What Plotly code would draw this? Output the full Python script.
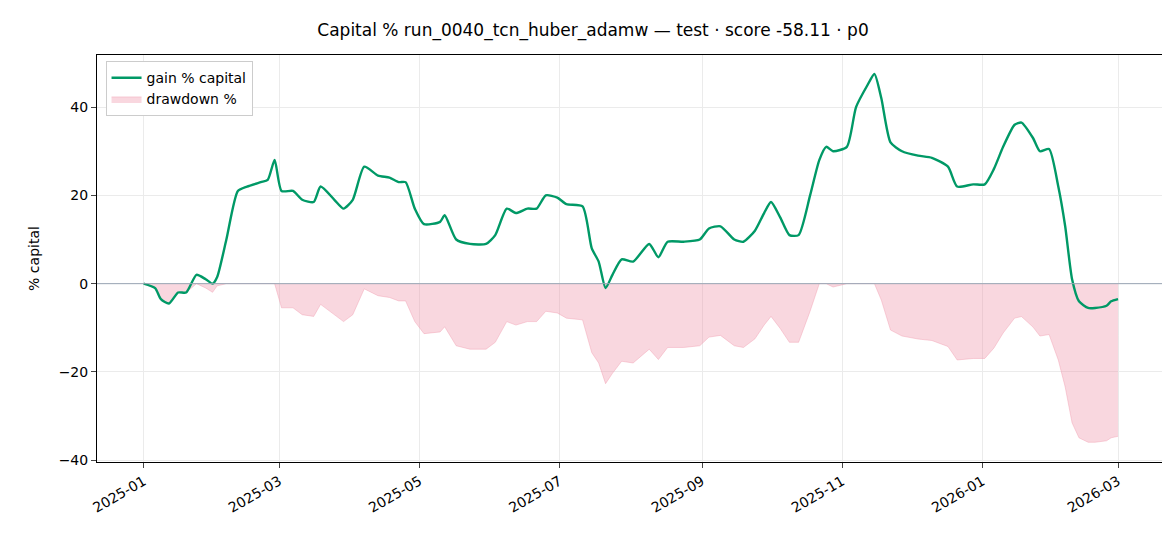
import plotly.graph_objects as go
import pandas as pd
import numpy as np

day_offsets = [0,5,7.5,11,15,18.5,23,27,30,32,36,41,45,51,54,57,60,65,69,74,77,83,87,91,96,102,107,111,114,118,122,129,131,136,142,149,153,158,162,167,171,175,180,184,191,195,198,201,204,208,213,220,224,228,235,242,246,251,257,261,266,270,273,277,281,285,290,294,297,300,306,310,315,318,321,325,330,337,343,350,354,361,366,370,374,379,382,387,390,394,398,401,404,407,411,414,419,421,424]
gain = [0,-1,-3.5,-4.5,-2,-2,2,1,0,1.5,10,21,22,23,23.5,28,21,21,19,18.5,22,19,17,19,26.5,24.5,24,23,23,17,13.5,14,15.5,10,9,9,11,17,16,17,17,20,19.5,18,17.5,8,5,-1,2,5.5,5,9,6,9.5,9.5,10,12.5,13,10,9.5,12,16,18.5,15,11,11,20,28,31,30,31,40,45,47.5,42,32,30,29,28.5,26.5,22,22.5,22.5,26,31,36,36.5,33,30,30.5,22,13,1,-4,-5.5,-5.5,-5,-4,-3.5]
tick_vals = ["2025-01-01","2025-03-01","2025-05-01","2025-07-01","2025-09-01","2025-11-01","2026-01-01","2026-03-01"]
tick_text = ["2025-01","2025-03","2025-05","2025-07","2025-09","2025-11","2026-01","2026-03"]

start = pd.Timestamp("2025-01-01")
dates = [start + pd.Timedelta(hours=d*24) for d in day_offsets]
g = np.array(gain)
eq = 1 + g/100
dd = (eq/np.maximum.accumulate(eq) - 1)*100

fig = go.Figure()
fig.add_trace(go.Scatter(x=dates, y=[0]*len(dates), mode="lines", line=dict(width=0), showlegend=False, hoverinfo="skip"))
fig.add_trace(go.Scatter(x=dates, y=dd, mode="lines", fill="tonexty", fillcolor="rgba(240,150,170,0.38)",
                         line=dict(width=0.8, color="rgba(240,150,170,0.5)"), name="drawdown %"))
fig.add_trace(go.Scatter(x=dates, y=gain, mode="lines", line=dict(color="#009966", width=2.4, shape="spline", smoothing=0.6), name="gain % capital"))
fig.add_hline(y=0, line=dict(color="#9aa5b5", width=1))
ax = dict(showline=True, linecolor="black", mirror=True, ticks="outside", gridcolor="#ebebeb", zeroline=False,
          tickfont=dict(size=14, color="black"))
fig.update_layout(
    width=1170, height=546, plot_bgcolor="white", paper_bgcolor="white",
    font=dict(family="DejaVu Sans", color="black"),
    margin=dict(l=89, r=14, t=47, b=92),
    title=dict(text="Capital % run_0040_tcn_huber_adamw — test · score -58.11 · p0", x=0.5, y=0.97, xanchor="center", font=dict(size=17)),
    xaxis=dict(ax, range=["2024-12-11 17:00", "2026-03-21"], tickvals=tick_vals, ticktext=tick_text, tickangle=-30),
    yaxis=dict(ax, range=[-40.4, 51.8], tickvals=[-40,-20,0,20,40], ticktext=["−40","−20","0","20","40"],
               title=dict(text="% capital", font=dict(size=14))),
    legend=dict(x=0.008, y=0.985, bgcolor="white", bordercolor="#cccccc", borderwidth=1, font=dict(size=14), traceorder="reversed"),
)
fig.write_html("out.html")
